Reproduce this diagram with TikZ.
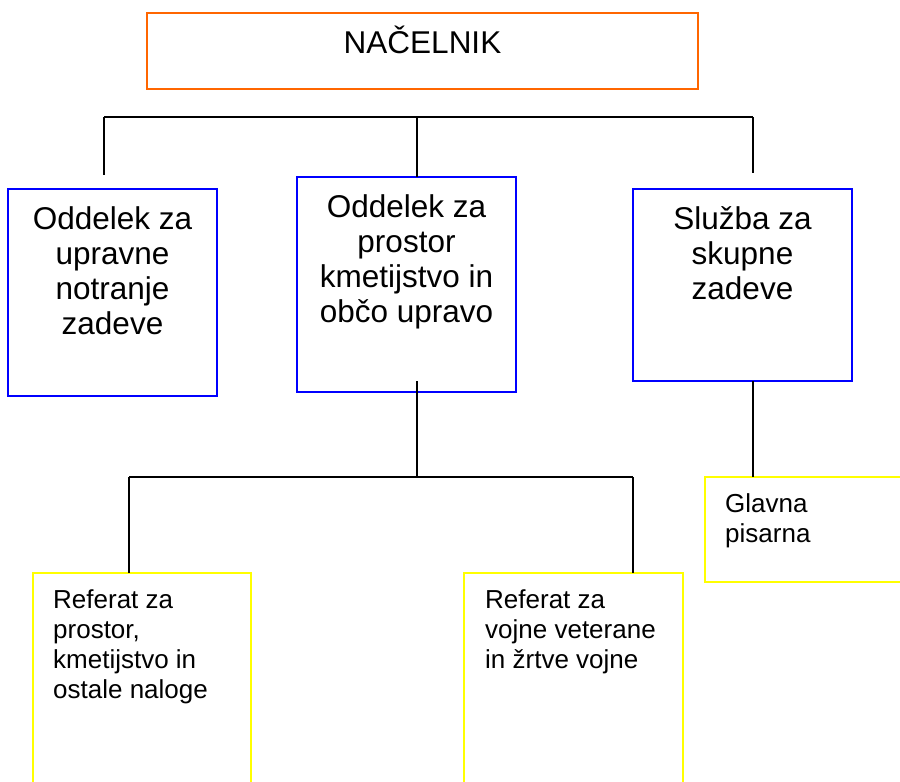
\documentclass[tikz,border=0pt]{standalone}
\usepackage{fontspec}
\setmainfont{Liberation Sans}
\usetikzlibrary{calc}
\definecolor{orgline}{RGB}{255,102,0}
\definecolor{blueline}{RGB}{0,0,255}
\definecolor{yelline}{RGB}{255,255,0}
\newcommand\bigstrut{\rule{0pt}{30pt}}
\newcommand\smallstrut{\rule{0pt}{26pt}}
\begin{document}
\begin{tikzpicture}[x=1pt,y=-1pt,
  boxbase/.style={rectangle,inner sep=0pt,outer sep=0pt,anchor=north west,line width=1.7pt},
  orangebox/.style={boxbase,draw=orgline},
  bluebox/.style={boxbase,draw=blueline},
  yellowbox/.style={boxbase,draw=yelline},
  bigtext/.style={inner sep=0pt,anchor=north,align=center,font=\fontsize{31.5}{35}\selectfont},
  smalltext/.style={inner sep=0pt,anchor=north west,align=left,font=\fontsize{26}{30}\selectfont},
  conn/.style={draw=black,line width=1.5pt}]
\useasboundingbox (0,0) rectangle (900,782);
\clip (0,0) rectangle (900,782);
\fill[white] (0,0) rectangle (900,782);
% boxes
\node[orangebox,minimum width=551pt,minimum height=76pt] (nac) at (147,13) {};
\node[bluebox,minimum width=209pt,minimum height=207pt] (o1) at (8,189) {};
\node[bluebox,minimum width=219pt,minimum height=215pt] (o2) at (297,177) {};
\node[bluebox,minimum width=219pt,minimum height=192pt] (o3) at (633,189) {};
\node[yellowbox,minimum width=300pt,minimum height=105pt] (gp) at (705,477) {};
\node[yellowbox,minimum width=218pt,minimum height=300pt] (r1) at (33,573) {};
\node[yellowbox,minimum width=219pt,minimum height=300pt] (r2) at (464,573) {};
% texts
\node[bigtext] (tnac) at ($(nac.north)+(0,10)$) {\bigstrut NAČELNIK};
\node[bigtext] (to1) at ($(o1.north)+(0,10)$) {\bigstrut Oddelek za\\upravne\\notranje\\zadeve};
\node[bigtext] (to2) at ($(o2.north)+(0,10)$) {\bigstrut Oddelek za\\prostor\\kmetijstvo in\\občo upravo};
\node[bigtext] (to3) at ($(o3.north)+(0,10)$) {\bigstrut Služba za\\skupne\\zadeve};
\node[smalltext] (tgp) at ($(gp.north west)+(20,9)$) {\smallstrut Glavna\\pisarna};
\node[smalltext] (tr1) at ($(r1.north west)+(20,9)$) {\smallstrut Referat za\\prostor,\\kmetijstvo in\\ostale naloge};
\node[smalltext] (tr2) at ($(r2.north west)+(21,9)$) {\smallstrut Referat za\\vojne veterane\\in žrtve vojne};
% upper tree
\coordinate (b1l) at (104,117);
\coordinate (b1m) at (417,117);
\coordinate (b1r) at (753,117);
\coordinate (d1) at (104,175);
\coordinate (d3) at (753,173);
\draw[conn] (b1l) -- (b1r);
\draw[conn] (b1l) -- (d1);
\draw[conn] (b1r) -- (d3);
\draw[conn] (b1m) -- (b1m |- o2.north);
% lower tree
\coordinate (s2) at (417,381);
\coordinate (b2m) at (417,477);
\coordinate (b2l) at (129,477);
\coordinate (b2r) at (633,477);
\draw[conn] (s2) -- (b2m);
\draw[conn] (b2l) -- (b2r);
\draw[conn] (b2l) -- (b2l |- r1.north);
\draw[conn] (b2r) -- (b2r |- r2.north);
\coordinate (c3) at (753,0);
\draw[conn] (c3 |- o3.south) -- (c3 |- gp.north);
\end{tikzpicture}
\end{document}
